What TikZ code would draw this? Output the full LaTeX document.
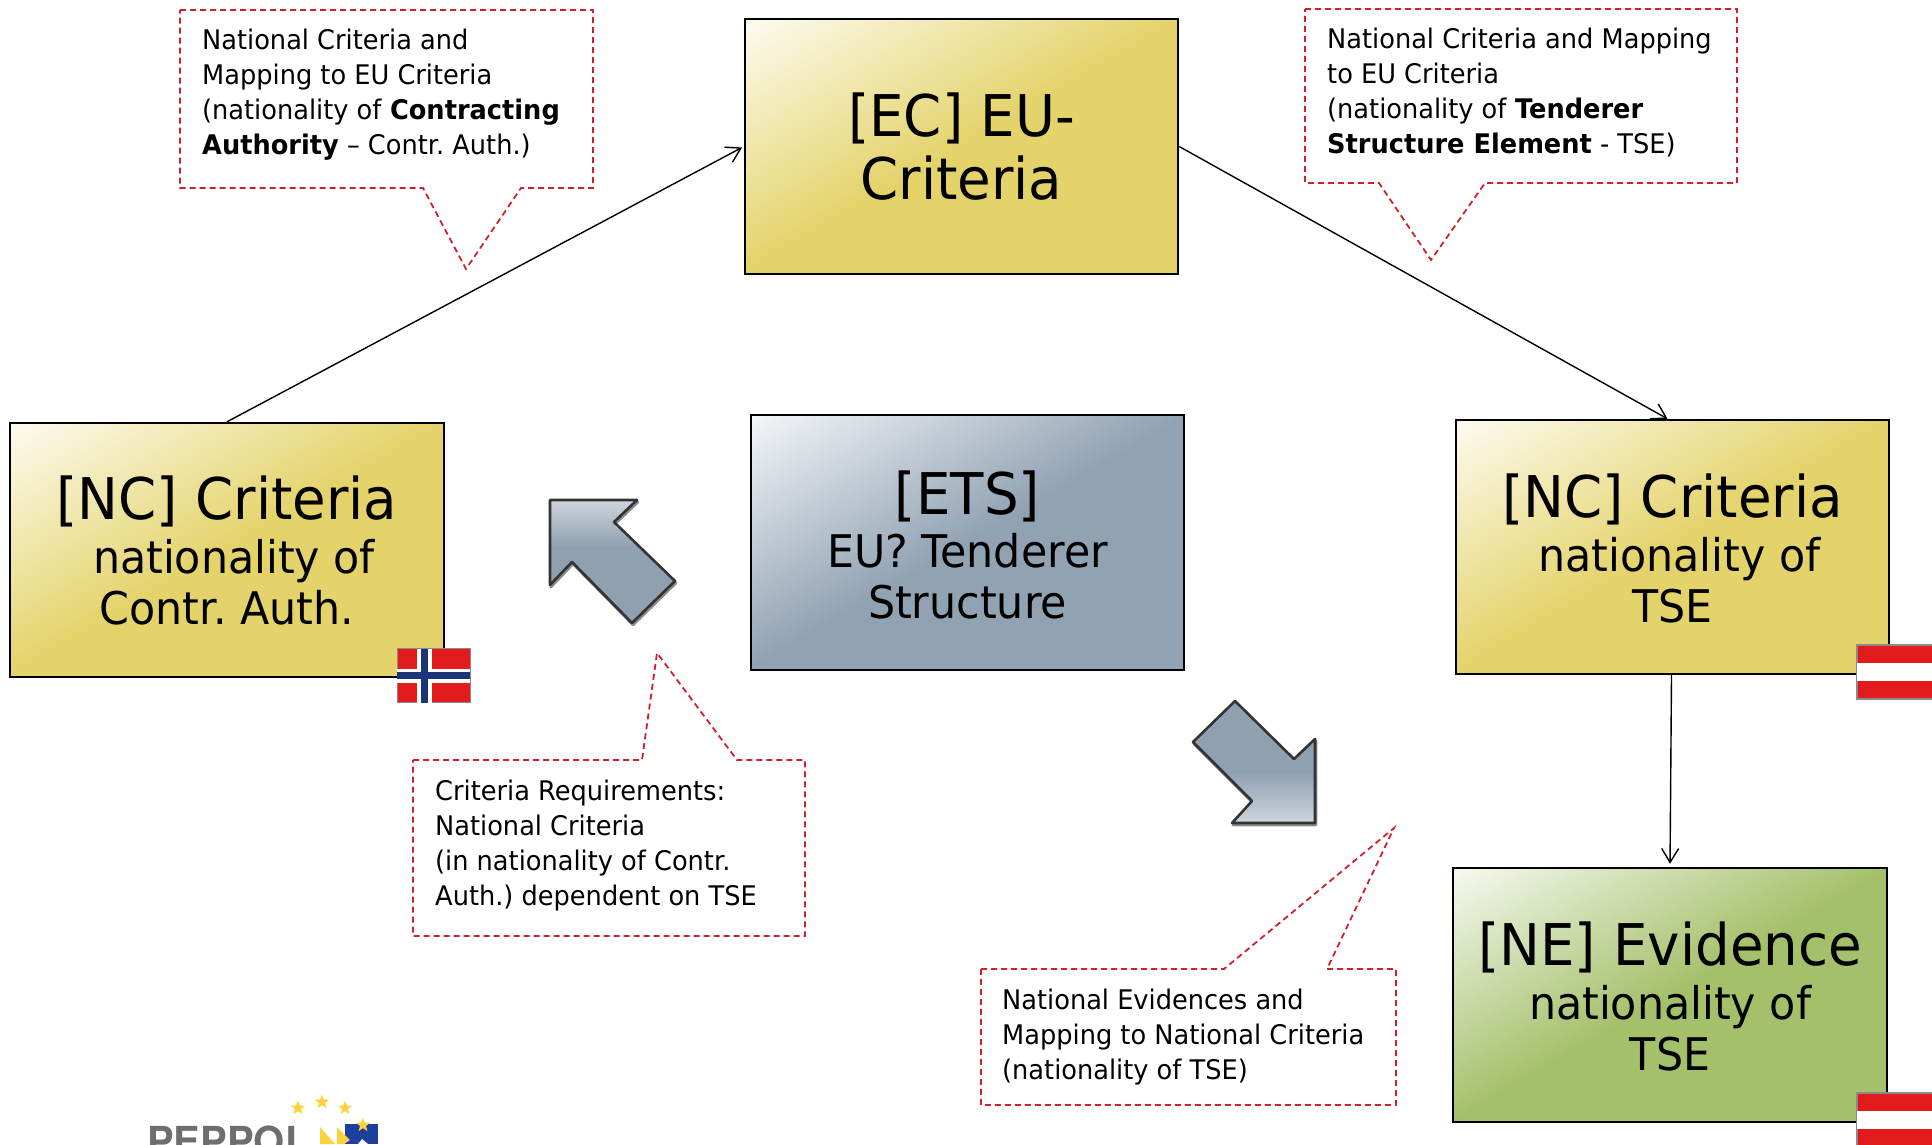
\documentclass[tikz,border=0pt]{standalone}
\usepackage{fontspec}
\setmainfont{DejaVu Sans}[FakeStretch=0.95,BoldFont={DejaVu Sans Bold},BoldFeatures={FakeStretch=0.95}]
\newfontfamily\logofont{TeX Gyre Heros}
\usetikzlibrary{arrows.meta,shapes.geometric}
\definecolor{goldc}{HTML}{E4D36A}
\definecolor{greenc}{HTML}{A5C06B}
\definecolor{bluec}{HTML}{91A2B3}
\definecolor{arrowc}{HTML}{8FA0B1}
\definecolor{arrowl}{HTML}{CED5DD}
\definecolor{flagred}{HTML}{E21C1C}
\definecolor{flagblue}{HTML}{1C3578}
\definecolor{flagedge}{HTML}{8A8A8A}
\definecolor{dashred}{HTML}{D0202A}
\definecolor{logogrey}{HTML}{6E6E70}
\definecolor{logoyellow}{HTML}{FFD23C}
\definecolor{logoblue}{HTML}{1F3F9E}
\pgfdeclareverticalshading{goldshade}{100bp}{color(0bp)=(goldc); color(50bp)=(goldc); color(88bp)=(white); color(100bp)=(white)}
\pgfdeclareverticalshading{greenshade}{100bp}{color(0bp)=(greenc); color(50bp)=(greenc); color(88bp)=(white); color(100bp)=(white)}
\pgfdeclareverticalshading{blueshade}{100bp}{color(0bp)=(bluec); color(50bp)=(bluec); color(88bp)=(white); color(100bp)=(white)}
\pgfdeclareverticalshading{arrowshadedown}{100bp}{color(0bp)=(arrowl); color(25bp)=(arrowl); color(46bp)=(arrowc); color(100bp)=(arrowc)}
\pgfdeclareverticalshading{arrowshadeup}{100bp}{color(0bp)=(arrowc); color(56bp)=(arrowc); color(75bp)=(arrowl); color(100bp)=(arrowl)}
\tikzset{
  bigbox/.style={draw=black,line width=2.4pt,inner sep=0pt,align=center,shading angle=30,
    font=\frenchspacing\fontsize{45}{51}\selectfont},
  goldbox/.style={bigbox,shading=goldshade},
  greenbox/.style={bigbox,shading=greenshade},
  bluebox/.style={bigbox,shading=blueshade},
  link/.style={draw=black,line width=1.4pt,-{Straight Barb[length=14pt,width=17pt,line width=1.4pt]}},
  callout/.style={draw=dashred,line width=1.8pt,dash pattern=on 6pt off 4pt},
  callouttext/.style={anchor=north west,inner sep=0pt,align=left,font=\frenchspacing\fontsize{27}{35}\selectfont},
  blockarrow/.style={draw=black!80,line width=2.6pt,line join=round},
  arrowshadow/.style={draw=black!45,line width=2.6pt,line join=round,shift={(1,2)}},
  flag/.style={draw=flagedge,line width=1.5pt,inner sep=0pt,fill=flagred},
  logostar/.style={star,star points=5,star point ratio=2.4,fill=logoyellow,inner sep=0pt,minimum size=15pt}
}
\newcommand{\bigline}[1]{{\fontsize{57.5}{64}\selectfont #1}}
\newcommand{\bigtall}[2]{{\fontsize{57.5}{64}\selectfont\rule{0pt}{#1}#2}}
\newcommand{\arrowup}{(550,500) -- (637,500) -- (614,522) -- (675,581) -- (632,623) -- (572,562) -- (550,585) -- cycle}
\newcommand{\arrowdown}{(1235,701) -- (1294,759) -- (1315,739) -- (1315,823) -- (1232,823) -- (1252,801) -- (1193,742) -- cycle}
\begin{document}
\begin{tikzpicture}[x=1pt,y=-1pt]
\useasboundingbox (0,0) rectangle (1932,1144);
\clip (0,0) rectangle (1932,1144);

% main boxes
\node[goldbox,minimum width=433pt,minimum height=255pt] (ec) at (961.5,146.5)
  {\bigline{[EC] EU-}\\[11pt]\bigline{Criteria}};
\node[goldbox,minimum width=434pt,minimum height=254pt] (ncl) at (227,550)
  {\bigtall{45pt}{[NC] Criteria}\\[3pt]\hspace*{14pt}nationality of\\Contr. Auth.};
\node[bluebox,minimum width=433pt,minimum height=255pt] (ets) at (967.5,542.5)
  {\bigtall{49pt}{[ETS]}\\[2pt]EU? Tenderer\\Structure};
\node[goldbox,minimum width=433pt,minimum height=254pt] (ncr) at (1672.5,547)
  {\bigtall{46pt}{[NC] Criteria}\\[3pt]\hspace*{14pt}nationality of\\TSE};
\node[greenbox,minimum width=434pt,minimum height=254pt] (ne) at (1670,995)
  {\bigtall{47pt}{[NE] Evidence}\\[3pt]nationality of\\TSE};

% connectors
\draw[link,shorten >=2pt] (ncl.north) -- (ec.west);
\draw[link] (ec.east) -- ([xshift=-5pt]ncr.north);
\draw[link,shorten >=3pt] ([xshift=-1pt]ncr.south) -- ([xshift=0pt]ne.north);

% flags
\node[flag,minimum width=73pt,minimum height=54pt] (fno) at (434,675.5) {};
\fill[white] (fno.west) ++(20,-27) rectangle ++(15,54);
\fill[white] (fno.west) ++(0,-7) rectangle ++(73,14);
\fill[flagblue] (fno.west) ++(24,-27) rectangle ++(7,54);
\fill[flagblue] (fno.west) ++(0,-3.5) rectangle ++(73,7);
\node[flag,minimum width=90pt,minimum height=54pt] (fat1) at (1902,672) {};
\fill[white] (fat1.west) ++(1,-9) rectangle ++(88,18);
\node[flag,minimum width=90pt,minimum height=54pt] (fat2) at (1902,1120) {};
\fill[white] (fat2.west) ++(1,-9) rectangle ++(88,18);

% block arrows
\draw[arrowshadow] \arrowup;
\path[shading=arrowshadeup] \arrowup;
\draw[blockarrow] \arrowup;
\draw[arrowshadow] \arrowdown;
\path[shading=arrowshadedown] \arrowdown;
\draw[blockarrow] \arrowdown;

% callouts
\draw[callout] (180,10) -- (593,10) -- (593,188) -- (521,188) -- (466,269) -- (423,188) -- (180,188) -- cycle;
\node[callouttext] (t1) at (202,29) {National Criteria and\\Mapping to EU Criteria\\(nationality of \textbf{Contracting}\\\textbf{Authority} -- Contr. Auth.)};
\draw[callout] (1305,9) -- (1737,9) -- (1737,183) -- (1485,183) -- (1431,260) -- (1379,183) -- (1305,183) -- cycle;
\node[callouttext] (t2) at (1327,28) {National Criteria and Mapping\\to EU Criteria\\(nationality of \textbf{Tenderer}\\\textbf{Structure Element} - TSE)};
\draw[callout] (413,760) -- (642,760) -- (657,653) -- (737,760) -- (805,760) -- (805,936) -- (413,936) -- cycle;
\node[callouttext] (t3) at (435,780) {Criteria Requirements:\\National Criteria\\(in nationality of Contr.\\Auth.) dependent on TSE};
\draw[callout] (981,969) -- (1224,969) -- (1394,828) -- (1327,969) -- (1396,969) -- (1396,1105) -- (981,1105) -- cycle;
\node[callouttext] (t4) at (1002,989) {National Evidences and\\Mapping to National Criteria\\(nationality of TSE)};

% logo
\node[anchor=base west,inner sep=0pt,text=logogrey,font=\logofont\bfseries\fontsize{40}{40}\selectfont] (logo) at (147,1155) {PEPPOL};
\node[logostar] (s1) at (298,1108) {};
\node[logostar] (s2) at (322,1102) {};
\node[logostar] (s3) at (345,1108) {};
\fill[logoblue] (345,1124) rectangle (378,1144);
\fill[white] (358,1144) -- (362,1139) -- (368,1144) -- cycle;
\fill[logoyellow] (320,1127) -- (335,1144) -- (320,1144) -- cycle;
\fill[logoyellow] (337,1127) -- (350,1140) -- (344,1144) -- (337,1144) -- cycle;
\node[logostar] (s4) at (363,1125) {};
\end{tikzpicture}
\end{document}
